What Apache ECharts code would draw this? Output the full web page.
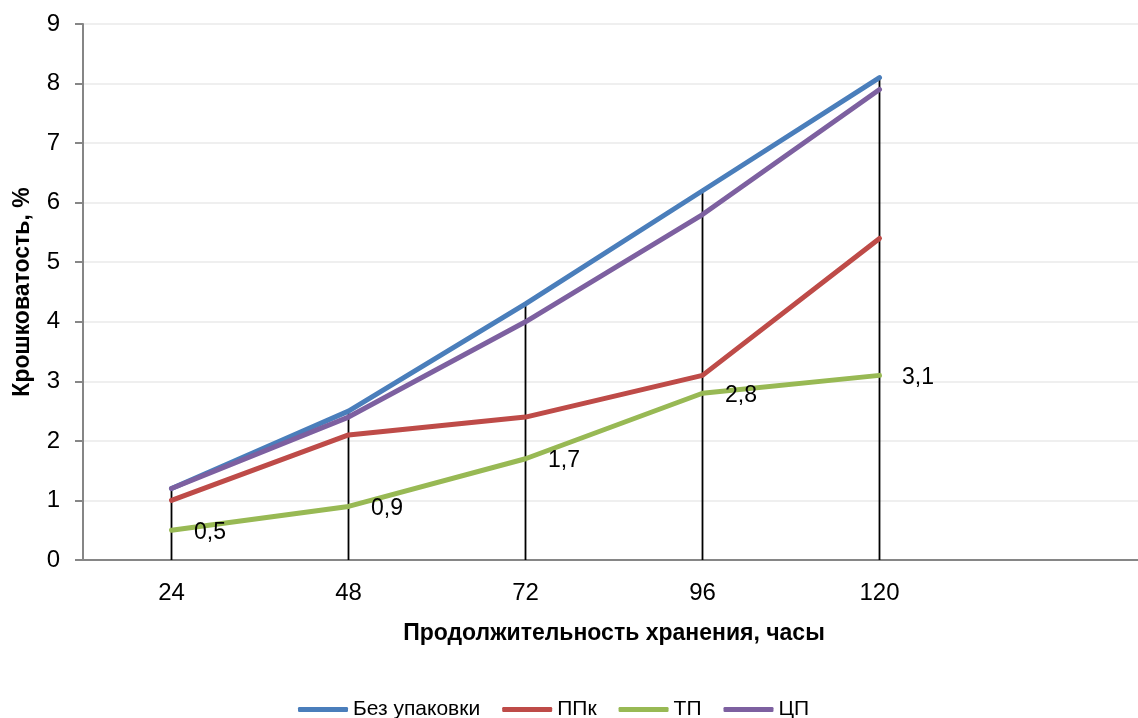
<!DOCTYPE html>
<html>
<head>
<meta charset="utf-8">
<script src="https://cdn.jsdelivr.net/npm/echarts@6/dist/echarts.min.js"></script>
<style>
  html, body { margin: 0; padding: 0; background: #fff; overflow: hidden; }
  #chart { width: 1138px; height: 718px; }
</style>
</head>
<body>
<div id="chart"></div>
<script>
// Storage time, hours (last slot left empty, as an open space on the axis)
const hours = ['24', '48', '72', '96', '120', ''];
const noPack = [1.2, 2.5, 4.3, 6.2, 8.1];
const ppk = [1.0, 2.1, 2.4, 3.1, 5.4];
const tp = [0.5, 0.9, 1.7, 2.8, 3.1];
const cp = [1.2, 2.4, 4.0, 5.8, 7.9];
const seriesNames = ['Без упаковки', 'ППк', 'ТП', 'ЦП'];
const yTicks = [0, 1, 2, 3, 4, 5, 6, 7, 8, 9];

const FONT = '"Liberation Sans", "DejaVu Sans", sans-serif';
const colors = ['#4A7EBB', '#BE4B48', '#98B954', '#7D60A0'];

// drop lines reach from the highest series value down to the axis
const dropTop = noPack.map((v, i) => Math.max(v, ppk[i], tp[i], cp[i]));

const lineSeries = (name, data, color, extra) => Object.assign({
  name: name,
  type: 'line',
  data: data,
  symbol: 'none',
  lineStyle: { color: color, width: 5, cap: 'round', join: 'round' },
  itemStyle: { color: color },
  z: 3
}, extra || {});

const chart = echarts.init(document.getElementById('chart'), null, { renderer: 'canvas' });
chart.setOption({
  animation: false,
  backgroundColor: '#ffffff',
  grid: { left: 83, right: -7, top: 24, bottom: 158, containLabel: false, outerBoundsMode: 'none' },
  legend: {
    data: seriesNames,
    top: 694,
    left: 293,
    icon: 'roundRect',
    itemWidth: 50,
    itemHeight: 5,
    itemGap: 22,
    textStyle: { fontFamily: FONT, fontSize: 21, color: '#000' }
  },
  xAxis: {
    type: 'category',
    data: hours,
    boundaryGap: true,
    name: 'Продолжительность хранения, часы',
    nameLocation: 'middle',
    nameGap: 62,
    nameTextStyle: { fontFamily: FONT, fontSize: 23, fontWeight: 'bold', color: '#000' },
    axisLine: { lineStyle: { color: '#868686', width: 2 } },
    axisTick: { show: false },
    axisLabel: { fontFamily: FONT, fontSize: 24, color: '#000', margin: 21 },
    splitLine: { show: false }
  },
  yAxis: {
    type: 'value',
    min: yTicks[0],
    max: yTicks[yTicks.length - 1],
    interval: 1,
    name: 'Крошковатость, %',
    nameLocation: 'middle',
    nameGap: 49,
    nameTextStyle: { fontFamily: FONT, fontSize: 23, fontWeight: 'bold', color: '#000' },
    axisLine: { show: true, lineStyle: { color: '#868686', width: 2 } },
    axisTick: { show: true, inside: false, length: 8, lineStyle: { color: '#868686', width: 2 } },
    axisLabel: { fontFamily: FONT, fontSize: 24, color: '#000', margin: 23 },
    splitLine: { show: true, lineStyle: { color: '#EFEFEF', width: 2 } }
  },
  series: [
    {
      name: 'drop',
      type: 'bar',
      data: dropTop,
      barWidth: 1.8,
      itemStyle: { color: '#000' },
      silent: true,
      z: 2
    },
    lineSeries(seriesNames[0], noPack, colors[0]),
    lineSeries(seriesNames[1], ppk, colors[1]),
    lineSeries(seriesNames[2], tp, colors[2], {
      symbol: 'circle',
      symbolSize: 1,
      showSymbol: true,
      label: {
        show: true,
        position: 'right',
        distance: 22,
        offset: [0, 2],
        fontFamily: FONT,
        fontSize: 23,
        color: '#000',
        formatter: p => String(p.value).replace('.', ',')
      }
    }),
    lineSeries(seriesNames[3], cp, colors[3])
  ]
});
</script>
</body>
</html>
